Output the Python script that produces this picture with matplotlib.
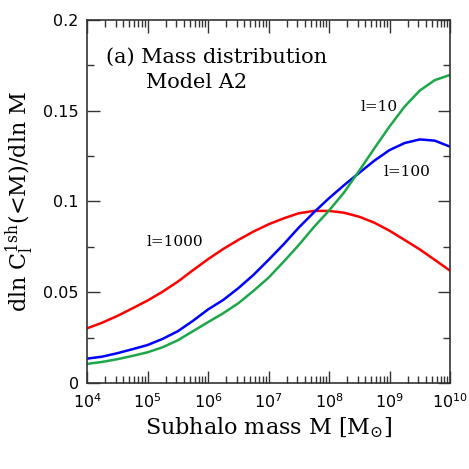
import numpy as np
import matplotlib
matplotlib.use("Agg")
import matplotlib.pyplot as plt
from matplotlib.ticker import LogLocator, MultipleLocator, FixedLocator, NullFormatter, FuncFormatter

logM = [4.0, 4.25, 4.5, 4.75, 5.0, 5.25, 5.5, 5.75, 6.0, 6.25, 6.5, 6.75, 7.0,
        7.25, 7.5, 7.75, 8.0, 8.25, 8.5, 8.75, 9.0, 9.25, 9.5, 9.75, 10.0]
l1000 = [0.0301, 0.0332, 0.0369, 0.0411, 0.0454, 0.0503, 0.0558, 0.0621, 0.0682,
         0.0738, 0.0788, 0.0834, 0.0874, 0.0907, 0.0935, 0.0948, 0.0948, 0.0938,
         0.0916, 0.0883, 0.0839, 0.0788, 0.0736, 0.0678, 0.0619]
l100 = [0.0134, 0.0145, 0.0164, 0.0186, 0.0209, 0.0243, 0.0285, 0.0342, 0.0405,
        0.0457, 0.0522, 0.0595, 0.0678, 0.0764, 0.0856, 0.0940, 0.1018, 0.1090,
        0.1158, 0.1225, 0.1283, 0.1322, 0.1342, 0.1335, 0.1302]
l10 = [0.0105, 0.0116, 0.0131, 0.0149, 0.0169, 0.0197, 0.0235, 0.0285, 0.0335,
       0.0384, 0.0439, 0.0507, 0.0580, 0.0668, 0.0760, 0.0859, 0.0950, 0.1050,
       0.1170, 0.1293, 0.1413, 0.1523, 0.1611, 0.1669, 0.1697]
yticks = [0, 0.05, 0.1, 0.15, 0.2]
yticklabels = ['0', '0.05', '0.1', '0.15', '0.2']

plt.rcParams['font.family'] = ['DejaVu Serif']
plt.rcParams['mathtext.fontset'] = 'custom'
plt.rcParams['mathtext.rm'] = 'DejaVu Serif'
plt.rcParams['mathtext.it'] = 'DejaVu Serif:italic'
plt.rcParams['mathtext.bf'] = 'DejaVu Serif:bold'
plt.rcParams['mathtext.sf'] = 'DejaVu Sans'

fig = plt.figure(figsize=(4.69, 4.69), dpi=100)
ax = fig.add_axes([0.1855, 0.1834, 0.774, 0.774])

M = 10.0 ** np.array(logM)
ax.plot(M, l1000, color='#ff0000', lw=1.8)
ax.plot(M, l100, color='#0000ff', lw=1.8)
ax.plot(M, l10, color='#1ea64a', lw=1.8)

ax.set_xscale('log')
ax.set_xlim(1e4, 1e10)
ax.set_ylim(0, 0.2)
ax.xaxis.set_major_locator(LogLocator(base=10, numticks=20))
ax.xaxis.set_major_formatter(FuncFormatter(
    lambda v, p: r'$\mathsf{10^{%d}}$' % int(round(np.log10(v)))))
ax.xaxis.set_minor_locator(LogLocator(base=10, subs=np.arange(2, 10), numticks=20))
ax.xaxis.set_minor_formatter(NullFormatter())
ax.yaxis.set_major_locator(FixedLocator(yticks))
ax.yaxis.set_minor_locator(MultipleLocator(0.025))
ax.set_yticklabels(yticklabels)
ax.tick_params(which='both', direction='in', top=True, right=True, width=1.0,
               labelsize=11.5, color='#333333')
ax.tick_params(which='major', length=9)
ax.tick_params(which='minor', length=5)
ax.tick_params(axis='x', pad=7)
ax.tick_params(axis='y', pad=6)
for lab in ax.get_xticklabels() + ax.get_yticklabels():
    lab.set_fontfamily('DejaVu Sans')
for s in ax.spines.values():
    s.set_linewidth(1.2)
    s.set_color('#333333')

ax.set_xlabel(r'Subhalo mass M [M$_{\odot}$]', fontsize=16, labelpad=3)
ax.set_ylabel(r'dln C$_{\rm l}^{\rm 1sh}$(<M)/dln M', fontsize=16, labelpad=5)

ax.text(0.052, 0.897, '(a) Mass distribution', transform=ax.transAxes, fontsize=15,
        va='center', ha='left')
ax.text(0.162, 0.827, 'Model A2', transform=ax.transAxes, fontsize=15,
        va='center', ha='left')
ax.text(10**8.52, 0.152, 'l=10', fontsize=11, ha='left', va='center')
ax.text(10**8.9, 0.116, 'l=100', fontsize=11, ha='left', va='center')
ax.text(10**4.98, 0.0775, 'l=1000', fontsize=11, ha='left', va='center')

fig.savefig('out.png', dpi=100)
